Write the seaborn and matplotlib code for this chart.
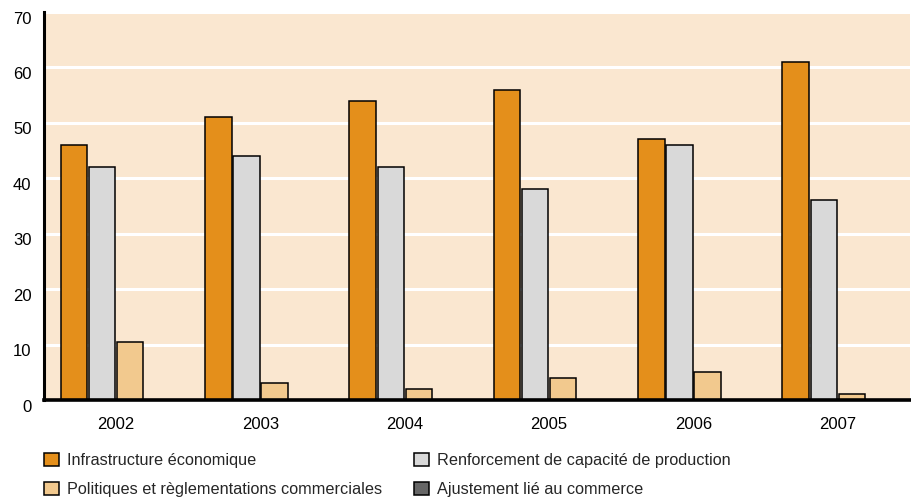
import matplotlib
matplotlib.use("Agg")
import matplotlib.pyplot as plt
import matplotlib.transforms as mtransforms
import seaborn as sns
import pandas as pd

years = ["2002", "2003", "2004", "2005", "2006", "2007"]
series_names = [
    "Infrastructure économique",
    "Renforcement de capacité de production",
    "Politiques et règlementations commerciales",
    "Ajustement lié au commerce",
]
infrastructure = [46, 51, 54, 56, 47, 61]
renforcement = [42, 44, 42, 38, 46, 36]
politiques = [10.5, 3, 2, 4, 5, 1]
ajustement = [0, 0, 0, 0, 0, 0]
colors = ["#E48F1B", "#D9D9D9", "#F2C98E", "#666666"]

rows = []
for name, vals in zip(series_names, [infrastructure, renforcement, politiques, ajustement]):
    for y, v in zip(years, vals):
        rows.append({"Année": y, "Valeur": v, "Série": name})
df = pd.DataFrame(rows)

sns.set_style("white")
plt.rcParams["font.family"] = ["Liberation Sans", "DejaVu Sans"]

fig = plt.figure(figsize=(9.12, 4.98), dpi=100)
ax = fig.add_axes([44 / 912, 98 / 498, 866 / 912, 388 / 498])
ax.set_facecolor("#FAE7D0")

sns.barplot(
    data=df, x="Année", y="Valeur", hue="Série", hue_order=series_names,
    palette=colors, saturation=1, width=0.78, gap=0.06,
    edgecolor="black", linewidth=1.1, ax=ax, zorder=3,
)

ax.set_ylim(0, 70)
ax.set_yticks(range(0, 71, 10))
ax.set_xlim(-0.5, len(years) - 0.5)
ax.yaxis.grid(True, color="white", linewidth=2.2, zorder=0)
ax.set_axisbelow(True)
ax.set_xlabel("")
ax.set_ylabel("")

for side in ["top", "right"]:
    ax.spines[side].set_visible(False)
ax.spines["left"].set_linewidth(2.2)
ax.spines["bottom"].set_linewidth(2.6)
ax.spines["left"].set_color("black")
ax.spines["bottom"].set_color("black")
ax.spines["bottom"].set_zorder(5)

ax.tick_params(axis="both", length=0, labelsize=12, colors="black")
ax.tick_params(axis="x", pad=12)
ax.tick_params(axis="y", pad=9)

# nudge the value labels slightly below their gridlines
shift = mtransforms.ScaledTranslation(0, -5.5 / 100, fig.dpi_scale_trans)
for lbl in ax.get_yticklabels():
    lbl.set_transform(lbl.get_transform() + shift)

handles, labels = ax.get_legend_handles_labels()
ax.get_legend().remove()

legend_kw = dict(
    frameon=False, fontsize=11.7, handlelength=0.9, handleheight=0.85,
    handletextpad=0.5, labelspacing=0.85, borderaxespad=0, borderpad=0,
)
fig.legend([handles[0], handles[2]], [labels[0], labels[2]],
           loc="upper left", bbox_to_anchor=(44 / 912, 1 - 453 / 498), **legend_kw)
fig.legend([handles[1], handles[3]], [labels[1], labels[3]],
           loc="upper left", bbox_to_anchor=(414 / 912, 1 - 453 / 498), **legend_kw)

fig.savefig("out.png", dpi=100)
